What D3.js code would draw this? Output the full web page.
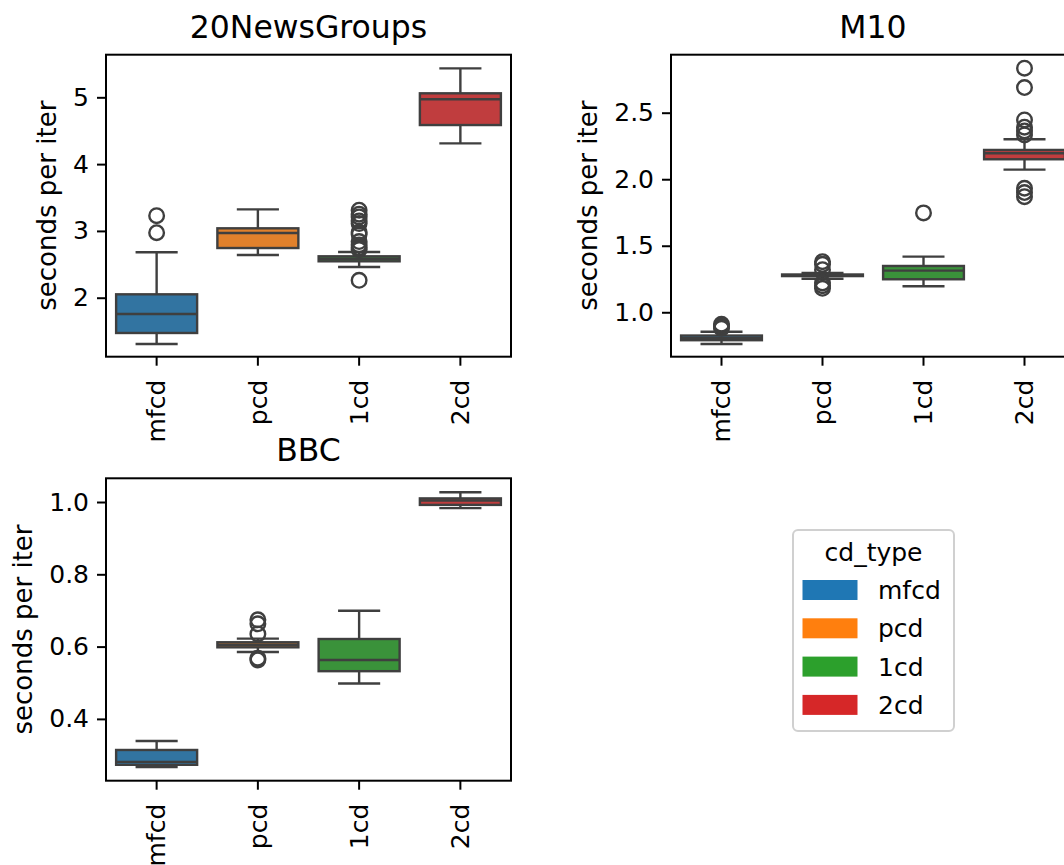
<!DOCTYPE html>
<html>
<head>
<meta charset="utf-8">
<script src="https://cdn.jsdelivr.net/npm/d3@7"></script>
<style>
  body { margin: 0; background: #fff; }
  text { font-family: "DejaVu Sans", sans-serif; fill: #000; }
</style>
</head>
<body>
<div id="chart"></div>
<script>
// categories on every panel
var categories = ["mfcd", "pcd", "1cd", "2cd"];
var legendColors = ["#1f77b4", "#ff7f0e", "#2ca02c", "#d62728"];
var boxColors = ["#3274a1", "#e1812c", "#3a923a", "#c03d3e"];

// box stats: [whisker low, q1, median, q3, whisker high]
var newsStats = [
    [1.307, 1.472, 1.756, 2.051, 2.68],
    [2.64, 2.744, 2.968, 3.039, 3.323],
    [2.46, 2.545, 2.584, 2.62, 2.684],
    [4.311, 4.585, 4.97, 5.06, 5.434]
];
var newsOutliers = [
    [3.228, 2.973],
    [],
    [3.31, 3.25, 3.21, 3.15, 3.11, 2.98, 2.95, 2.84, 2.79, 2.75, 2.72, 2.26],
    []
];
var newsTicks = [2, 3, 4, 5];

var m10Stats = [
    [0.762, 0.79, 0.805, 0.825, 0.854],
    [1.252, 1.272, 1.278, 1.284, 1.295],
    [1.195, 1.248, 1.313, 1.348, 1.418],
    [2.072, 2.15, 2.195, 2.22, 2.30]
];
var m10Outliers = [
    [0.91, 0.895, 0.88],
    [1.38, 1.36, 1.32, 1.22, 1.20, 1.18],
    [1.747],
    [2.835, 2.689, 2.446, 2.391, 2.363, 2.333, 1.932, 1.90, 1.869]
];
var m10Ticks = [1.0, 1.5, 2.0, 2.5];

var bbcStats = [
    [0.267, 0.273, 0.281, 0.314, 0.339],
    [0.585, 0.598, 0.605, 0.612, 0.622],
    [0.498, 0.532, 0.563, 0.621, 0.699],
    [0.983, 0.992, 1.004, 1.010, 1.027]
];
var bbcOutliers = [
    [],
    [0.674, 0.663, 0.635, 0.568, 0.563],
    [],
    []
];
var bbcTicks = [0.4, 0.6, 0.8, 1.0];

var width = 1064, height = 865;
var lineColor = "#3f3f3f";
var lw = 2.4;

var svg = d3.select("#chart")
    .append("svg")
    .attr("width", width)
    .attr("height", height);

function drawPanel(p) {
    var x = d3.scaleBand().domain(categories).range([p.left, p.right]);
    var y = d3.scaleLinear().domain(p.domain).range([p.bottom, p.top]);
    var g = svg.append("g");
    var bw = x.bandwidth() * 0.8;
    var cw = bw * 0.52;

    var boxes = g.selectAll("g.box")
        .data(p.stats)
        .enter()
        .append("g")
        .attr("class", "box");

    // whiskers
    boxes.append("line")
        .attr("x1", (d, i) => x(categories[i]) + x.bandwidth() / 2)
        .attr("x2", (d, i) => x(categories[i]) + x.bandwidth() / 2)
        .attr("y1", d => y(d[0]))
        .attr("y2", d => y(d[4]))
        .attr("stroke", lineColor).attr("stroke-width", lw);
    [0, 4].forEach(function (k) {
        boxes.append("line")
            .attr("x1", (d, i) => x(categories[i]) + x.bandwidth() / 2 - cw / 2)
            .attr("x2", (d, i) => x(categories[i]) + x.bandwidth() / 2 + cw / 2)
            .attr("y1", d => y(d[k]))
            .attr("y2", d => y(d[k]))
            .attr("stroke", lineColor).attr("stroke-width", lw);
    });
    boxes.append("rect")
        .attr("x", (d, i) => x(categories[i]) + (x.bandwidth() - bw) / 2)
        .attr("width", bw)
        .attr("y", d => y(d[3]))
        .attr("height", d => Math.max(0.5, y(d[1]) - y(d[3])))
        .attr("fill", (d, i) => boxColors[i])
        .attr("stroke", lineColor).attr("stroke-width", lw);
    boxes.append("line")
        .attr("x1", (d, i) => x(categories[i]) + (x.bandwidth() - bw) / 2)
        .attr("x2", (d, i) => x(categories[i]) + (x.bandwidth() + bw) / 2)
        .attr("y1", d => y(d[2]))
        .attr("y2", d => y(d[2]))
        .attr("stroke", lineColor).attr("stroke-width", lw);

    // outliers
    p.outliers.forEach(function (vals, i) {
        g.selectAll(null)
            .data(vals)
            .enter()
            .append("circle")
            .attr("cx", x(categories[i]) + x.bandwidth() / 2)
            .attr("cy", d => y(d))
            .attr("r", 7.3)
            .attr("fill", "none")
            .attr("stroke", lineColor)
            .attr("stroke-width", lw);
    });

    // frame
    g.append("rect")
        .attr("x", p.left).attr("y", p.top)
        .attr("width", p.right - p.left).attr("height", p.bottom - p.top)
        .attr("fill", "none").attr("stroke", "#000").attr("stroke-width", 2);

    // axes
    var yAxis = g.append("g")
        .attr("transform", "translate(" + p.left + ",0)")
        .call(d3.axisLeft(y).tickValues(p.ticks).tickSize(9).tickPadding(8).tickFormat(p.fmt));
    var xAxis = g.append("g")
        .attr("transform", "translate(0," + p.bottom + ")")
        .call(d3.axisBottom(x).tickSize(9).tickPadding(8));
    [yAxis, xAxis].forEach(function (a) {
        a.select(".domain").remove();
        a.selectAll(".tick line").attr("stroke", "#000").attr("stroke-width", 2);
        a.selectAll("text").style("font-size", "25px").attr("fill", "#000")
            .style("font-family", "DejaVu Sans");
    });
    xAxis.selectAll(".tick text")
        .attr("transform", "rotate(-90)")
        .attr("x", -23).attr("y", 0).attr("dy", "0.35em")
        .attr("text-anchor", "end");

    var labLeft = yAxis.node().getBBox().x + p.left;
    g.append("text")
        .attr("transform", "translate(" + (labLeft - 17) + "," + ((p.top + p.bottom) / 2) + ") rotate(-90)")
        .attr("text-anchor", "middle")
        .style("font-size", "26px")
        .text("seconds per iter");

    g.append("text")
        .attr("x", (p.left + p.right) / 2)
        .attr("y", p.top - 17)
        .attr("text-anchor", "middle")
        .style("font-size", "31.5px")
        .text(p.title);
}

drawPanel({ title: "20NewsGroups", left: 106, right: 511, top: 54.7, bottom: 356.7,
    domain: [1.117, 5.638], stats: newsStats, outliers: newsOutliers, ticks: newsTicks, fmt: d3.format("d") });
drawPanel({ title: "M10", left: 671, right: 1075, top: 54.7, bottom: 356.7,
    domain: [0.666, 2.936], stats: m10Stats, outliers: m10Outliers, ticks: m10Ticks, fmt: d3.format(".1f") });
drawPanel({ title: "BBC", left: 106, right: 511, top: 478.3, bottom: 780.7,
    domain: [0.229, 1.0656], stats: bbcStats, outliers: bbcOutliers, ticks: bbcTicks, fmt: d3.format(".1f") });

// legend
var leg = svg.append("g");
leg.append("rect")
    .attr("x", 793).attr("y", 530).attr("width", 161).attr("height", 201)
    .attr("rx", 5).attr("fill", "#fff").attr("stroke", "#d0d0d0").attr("stroke-width", 2);
leg.append("text")
    .attr("x", 873.5).attr("y", 561)
    .attr("text-anchor", "middle")
    .style("font-size", "25px")
    .text("cd_type");
var rows = leg.selectAll("g.row")
    .data(categories)
    .enter()
    .append("g")
    .attr("class", "row")
    .attr("transform", (d, i) => "translate(0," + (580 + i * 38.3) + ")");
rows.append("rect")
    .attr("x", 802.5).attr("y", 0).attr("width", 55).attr("height", 20)
    .attr("fill", (d, i) => legendColors[i]);
rows.append("text")
    .attr("x", 878).attr("y", 19)
    .style("font-size", "25px")
    .text(d => d);
</script>
</body>
</html>
